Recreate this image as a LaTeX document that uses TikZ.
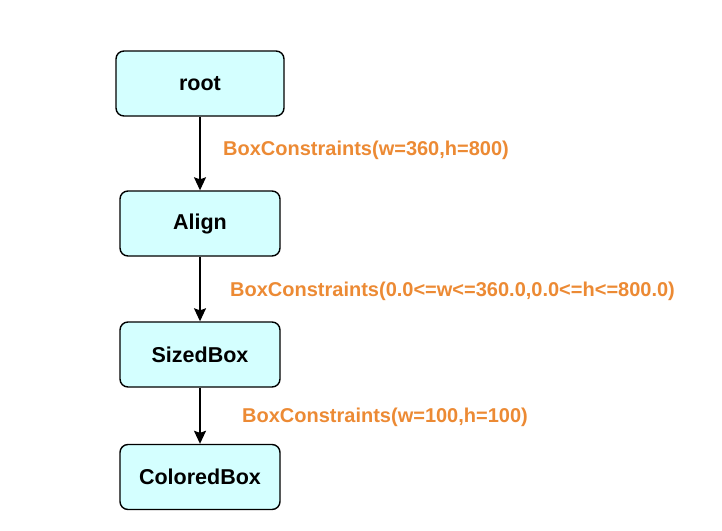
\documentclass[tikz,border=0pt]{standalone}
\usepackage{fontspec}
\setmainfont{Liberation Sans}
\usetikzlibrary{arrows.meta}
\definecolor{boxfill}{RGB}{212,255,255}
\definecolor{lblorange}{RGB}{236,138,52}
\tikzset{
  treebox/.style={draw=black, line width=1.4pt, fill=boxfill, rounded corners=8pt,
    minimum height=65pt, inner sep=0pt, font=\fontsize{21.5}{25}\selectfont\bfseries},
  conn/.style={line width=1.4pt, -{Stealth[length=13pt,width=12pt,inset=2pt]}},
  lbl/.style={anchor=west, inner sep=0pt, text=lblorange, font=\fontsize{20}{24}\selectfont\bfseries}
}
\begin{document}
\begin{tikzpicture}[x=1pt,y=-1pt]
\useasboundingbox (0,0) rectangle (722,530);
\node[treebox, minimum width=168pt] (root) at (200,83.5) {root};
\node[treebox, minimum width=160pt] (align) at (200,223.5) {Align};
\node[treebox, minimum width=160pt] (sized) at (200,354.5) {SizedBox};
\node[treebox, minimum width=160pt] (colored) at (200,477) {ColoredBox};
\draw[conn] (root) -- (align);
\draw[conn] (align) -- (sized);
\draw[conn] (sized) -- (colored);
\node[lbl] (l1) at (223,150.5) {BoxConstraints(w=360,h=800)};
\node[lbl] (l2) at (230,291.5) {BoxConstraints(0.0<=w<=360.0,0.0<=h<=800.0)};
\node[lbl] (l3) at (242,417.5) {BoxConstraints(w=100,h=100)};
\end{tikzpicture}
\end{document}
